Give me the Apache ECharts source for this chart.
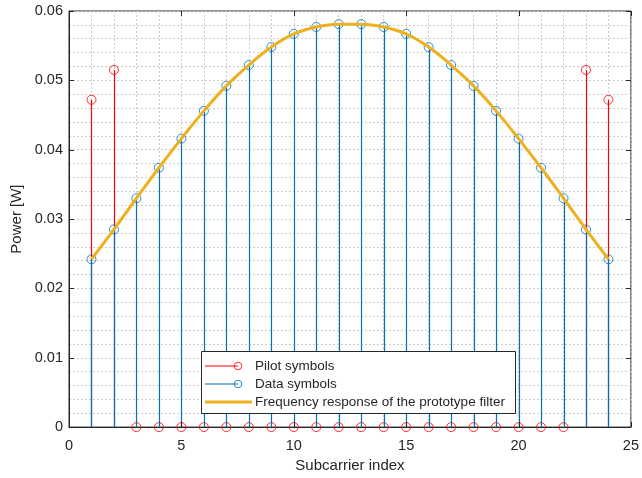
<!DOCTYPE html>
<html>
<head>
<meta charset="utf-8">
<script src="https://cdn.jsdelivr.net/npm/echarts@6/dist/echarts.min.js"></script>
<style>
  html, body { margin: 0; padding: 0; background: #fff; }
  #chart { width: 642px; height: 478px; }
</style>
</head>
<body>
<div id="chart"></div>
<script>
// Subcarrier indices 1..24
const subcarriers = [1,2,3,4,5,6,7,8,9,10,11,12,13,14,15,16,17,18,19,20,21,22,23,24];
// Pilot power (non-zero only on the edge subcarriers)
const pilotPower = [0.0472,0.0515,0,0,0,0,0,0,0,0,0,0,0,0,0,0,0,0,0,0,0,0,0.0515,0.0472];
// Data power on every subcarrier
const dataPower = [0.0242,0.0285,0.0330,0.0374,0.0416,0.0456,0.0492,0.0522,0.0548,0.0567,0.0577,0.0581,
                   0.0581,0.0577,0.0567,0.0548,0.0522,0.0492,0.0456,0.0416,0.0374,0.0330,0.0285,0.0242];
// Prototype filter frequency response sampled at the subcarriers
const filterResponse = dataPower.slice();
const xTicks = [0,5,10,15,20,25];
const yTicks = [0,0.01,0.02,0.03,0.04,0.05,0.06];
const seriesNames = ['Pilot symbols','Data symbols','Frequency response of the prototype filter'];

const RED = '#FF0000', BLUE = '#0072BD', ORANGE = '#EDB120', INK = '#262626';
const FONT = '"Liberation Sans", Arial, sans-serif';
const X_MIN = xTicks[0], X_MAX = xTicks[xTicks.length - 1];
const Y_MIN = yTicks[0], Y_MAX = yTicks[yTicks.length - 1];
const TICK_LEN = 5;

const pair = (xs, ys) => xs.map((x, i) => [x, ys[i]]);

function stemSeries(name, data, color, z) {
  return {
    name, type: 'custom', z, data, silent: true,
    renderItem(params, api) {
      const x = api.value(0), y = api.value(1);
      const p0 = api.coord([x, 0]);
      const p1 = api.coord([x, y]);
      const px = Math.round(p0[0]) + 0.5;
      return {
        type: 'line',
        shape: { x1: px, y1: p0[1], x2: px, y2: p1[1] },
        style: { stroke: color, lineWidth: 1.2 }
      };
    }
  };
}
function markerSeries(name, data, color, z) {
  return {
    name, type: 'scatter', z, data, symbol: 'circle', symbolSize: 9,
    itemStyle: { color: 'rgba(0,0,0,0)', borderColor: color, borderWidth: 1, opacity: 0.8 },
    silent: true
  };
}
// inward tick marks on all four sides of the axes box
function tickSeries(values, isX) {
  return {
    type: 'custom', z: 8, silent: true, data: values.map(v => [v]),
    renderItem(params, api) {
      const v = api.value(0);
      let a, b;
      if (isX) {
        a = api.coord([v, Y_MIN]); b = api.coord([v, Y_MAX]);
        const px = Math.round(a[0]) + 0.5;
        return { type: 'group', children: [
          { type: 'line', shape: { x1: px, y1: a[1], x2: px, y2: a[1] - TICK_LEN }, style: { stroke: INK, lineWidth: 1 } },
          { type: 'line', shape: { x1: px, y1: b[1], x2: px, y2: b[1] + TICK_LEN }, style: { stroke: INK, lineWidth: 1 } }
        ] };
      }
      a = api.coord([X_MIN, v]); b = api.coord([X_MAX, v]);
      const py = Math.round(a[1]) + 0.5;
      return { type: 'group', children: [
        { type: 'line', shape: { x1: a[0], y1: py, x2: a[0] + TICK_LEN, y2: py }, style: { stroke: INK, lineWidth: 1 } },
        { type: 'line', shape: { x1: b[0], y1: py, x2: b[0] - TICK_LEN, y2: py }, style: { stroke: INK, lineWidth: 1 } }
      ] };
    }
  };
}

const gridLine = () => ({ show: true, lineStyle: { color: '#cccccc', type: [2, 2], width: 1 } });
const axisLineStyle = () => ({ show: true, onZero: false, lineStyle: { color: INK, width: 1 } });
const labelStyle = () => ({ color: INK, fontSize: 14.5, fontFamily: FONT });

const chart = echarts.init(document.getElementById('chart'), null, { renderer: 'canvas' });

// legend drawn as a boxed group in the lower middle of the plot
const lgX = 201.5, lgY = 351.5, lgW = 314, lgH = 62, rowY = [366, 384, 402];
const LZ = 100;
const legendItems = [
  { type: 'rect', z: LZ, shape: { x: lgX, y: lgY, width: lgW, height: lgH },
    style: { fill: '#fff', stroke: INK, lineWidth: 1 } },
  { type: 'line', z: LZ + 1, shape: { x1: 205, y1: rowY[0], x2: 238, y2: rowY[0] }, style: { stroke: RED, lineWidth: 1.2 } },
  { type: 'circle', z: LZ + 1, shape: { cx: 238, cy: rowY[0], r: 3.8 }, style: { fill: 'none', stroke: RED, lineWidth: 1, opacity: 0.8 } },
  { type: 'line', z: LZ + 1, shape: { x1: 205, y1: rowY[1], x2: 238, y2: rowY[1] }, style: { stroke: BLUE, lineWidth: 1.2 } },
  { type: 'circle', z: LZ + 1, shape: { cx: 238, cy: rowY[1], r: 3.8 }, style: { fill: 'none', stroke: BLUE, lineWidth: 1, opacity: 0.8 } },
  { type: 'line', z: LZ + 1, shape: { x1: 205, y1: rowY[2], x2: 252, y2: rowY[2] }, style: { stroke: ORANGE, lineWidth: 3 } }
].concat(seriesNames.map((n, i) => ({
  type: 'text', z: LZ + 1, x: 255, y: rowY[i],
  style: { text: n, fill: INK, font: '13.5px ' + FONT, textVerticalAlign: 'middle' }
})));

chart.setOption({
  animation: false,
  backgroundColor: '#fff',
  grid: { left: 69, right: 6, top: 11, bottom: 50, show: true, borderColor: INK, borderWidth: 1, backgroundColor: '#fff' },
  xAxis: {
    type: 'value', min: X_MIN, max: X_MAX, interval: 5,
    name: 'Subcarrier index', nameLocation: 'middle', nameGap: 30,
    nameTextStyle: { color: INK, fontSize: 15, fontFamily: FONT },
    axisLine: axisLineStyle(), axisTick: { show: false },
    axisLabel: Object.assign({ margin: 11 }, labelStyle()),
    splitLine: gridLine(),
    minorTick: { show: false, splitNumber: 5 },
    minorSplitLine: gridLine()
  },
  yAxis: {
    type: 'value', min: Y_MIN, max: Y_MAX, interval: 0.01,
    name: 'Power [W]', nameLocation: 'middle', nameGap: 42,
    nameTextStyle: { color: INK, fontSize: 15, fontFamily: FONT },
    axisLine: axisLineStyle(), axisTick: { show: false },
    axisLabel: Object.assign({ margin: 6, formatter: v => v === 0 ? '0' : v.toFixed(2) }, labelStyle()),
    splitLine: gridLine(),
    minorTick: { show: false, splitNumber: 5 },
    minorSplitLine: gridLine()
  },
  series: [
    stemSeries(seriesNames[0], pair(subcarriers, pilotPower), RED, 2),
    markerSeries(seriesNames[0], pair(subcarriers, pilotPower), RED, 3),
    stemSeries(seriesNames[1], pair(subcarriers, dataPower), BLUE, 4),
    markerSeries(seriesNames[1], pair(subcarriers, dataPower), BLUE, 5),
    {
      name: seriesNames[2], type: 'line', z: 6, data: pair(subcarriers, filterResponse),
      smooth: 0.4, showSymbol: false, symbol: 'none', silent: true,
      lineStyle: { color: ORANGE, width: 3 }
    },
    tickSeries(xTicks, true),
    tickSeries(yTicks, false)
  ],
  graphic: { elements: [{ type: 'group', children: legendItems }] }
});
</script>
</body>
</html>
